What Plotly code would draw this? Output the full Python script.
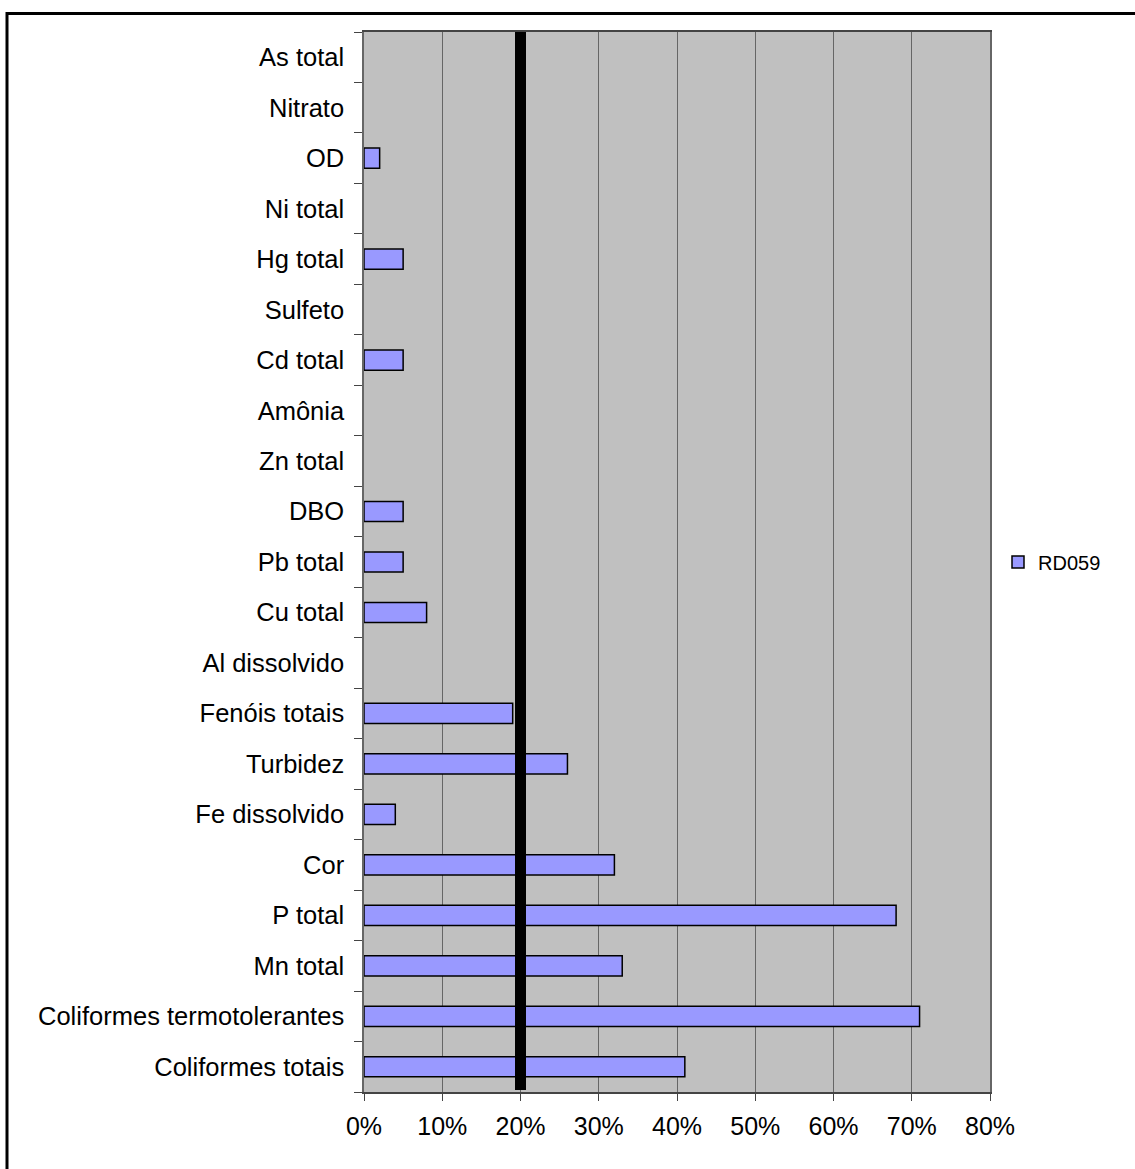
import plotly.graph_objects as go

# Parameters, listed bottom to top as drawn (Plotly's category order)
categories = [
    "Coliformes totais", "Coliformes termotolerantes", "Mn total", "P total",
    "Cor", "Fe dissolvido", "Turbidez", "Fenóis totais", "Al dissolvido",
    "Cu total", "Pb total", "DBO", "Zn total", "Amônia", "Cd total",
    "Sulfeto", "Hg total", "Ni total", "OD", "Nitrato", "As total",
]
# Share of samples out of the standard (fraction)
rd059 = [
    0.41, 0.71, 0.33, 0.68,
    0.32, 0.04, 0.26, 0.19, 0.0,
    0.08, 0.05, 0.05, 0.0, 0.0, 0.05,
    0.0, 0.05, 0.0, 0.02, 0.0, 0.0,
]
series_name = "RD059"
reference_level = 0.20
x_ticks = [0, 0.1, 0.2, 0.3, 0.4, 0.5, 0.6, 0.7, 0.8]

W, H = 1135, 1169
L, R, T, B = 364, 145, 32, 77
pw, ph = W - L - R, H - T - B

font_family = "Liberation Sans, Arial, sans-serif"

# no outline on empty bars
outline_widths = [1.5 if v > 0 else 0 for v in rd059]

fig = go.Figure()
fig.add_trace(go.Bar(
    y=categories,
    x=rd059,
    orientation="h",
    name=series_name,
    width=0.4,
    marker=dict(color="#9999FF", line=dict(color="black", width=outline_widths)),
    showlegend=True,
))

# Thick reference line at 20 %
fig.add_shape(
    type="line", xref="x", yref="paper",
    x0=reference_level, x1=reference_level, y0=0.002, y1=1,
    line=dict(color="black", width=11), layer="above",
)

# Outer chart frame
fig.add_shape(
    type="rect", xref="paper", yref="paper",
    x0=(7 - L) / pw, x1=1.5,
    y0=-0.3, y1=(H - B - 13.5) / ph,
    line=dict(color="black", width=3), fillcolor="rgba(0,0,0,0)",
)

fig.update_layout(
    width=W, height=H,
    margin=dict(l=L, r=R, t=T, b=B, pad=0),
    paper_bgcolor="white",
    plot_bgcolor="#C0C0C0",
    font=dict(family=font_family, color="black", size=25.5),
    bargap=0.6,
    legend=dict(
        x=(998 - L) / pw, xanchor="left",
        y=0.5, yanchor="middle",
        font=dict(size=20, family=font_family),
        bgcolor="rgba(0,0,0,0)",
    ),
    xaxis=dict(
        range=[0, 0.8],
        tickvals=x_ticks,
        tickformat=".0%",
        showgrid=True, gridcolor="#666666", gridwidth=1,
        ticks="outside", ticklen=7, tickcolor="#444444",
        showline=True, linecolor="#444444", linewidth=1.5, mirror=True,
        zeroline=False,
        tickfont=dict(size=25),
        ticklabelstandoff=4,
    ),
    yaxis=dict(
        categoryorder="array", categoryarray=categories,
        showgrid=False,
        ticks="outside", tickson="boundaries", ticklen=8, tickcolor="#444444",
        showline=True, linecolor="#666666", linewidth=1.5, mirror=True,
        tickfont=dict(size=25.5),
        ticklabelstandoff=13,
    ),
)

fig.write_html("out.html")
